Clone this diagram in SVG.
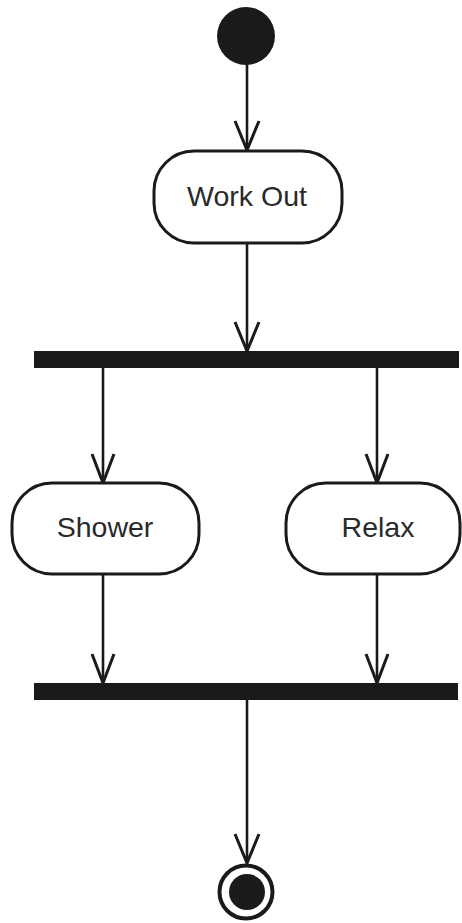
<svg xmlns="http://www.w3.org/2000/svg" width="462" height="923" viewBox="0 0 462 923">
  <style>
    .flow { stroke: #1a1a1a; stroke-width: 2.6; fill: none; }
    .head { stroke: #1a1a1a; stroke-width: 3; fill: none; stroke-linejoin: miter; }
    .action { fill: #ffffff; stroke: #1a1a1a; stroke-width: 3; }
    .bar { fill: #1a1a1a; }
    .label { font-family: "Liberation Sans", Arial, sans-serif; font-size: 28.5px; fill: #2a2a2a; text-anchor: middle; }
  </style>
  <rect width="462" height="923" fill="#ffffff"/>

  <!-- control flows -->
  <g id="connectors">
    <!-- start to Work Out -->
    <line class="flow" x1="247" y1="62" x2="247" y2="150"/>
    <path class="head" d="M235,121 L247,150 L259,121"/>
    <!-- Work Out to fork -->
    <line class="flow" x1="247" y1="243" x2="247" y2="351"/>
    <path class="head" d="M235,322 L247,351 L259,322"/>
    <!-- fork to Shower -->
    <line class="flow" x1="103" y1="368" x2="103" y2="483"/>
    <path class="head" d="M92,454 L103,483 L114,454"/>
    <!-- fork to Relax -->
    <line class="flow" x1="377" y1="368" x2="377" y2="483"/>
    <path class="head" d="M366,454 L377,483 L388,454"/>
    <!-- Shower to join -->
    <line class="flow" x1="103" y1="574" x2="103" y2="683"/>
    <path class="head" d="M92,654 L103,683 L114,654"/>
    <!-- Relax to join -->
    <line class="flow" x1="377" y1="574" x2="377" y2="683"/>
    <path class="head" d="M366,654 L377,683 L388,654"/>
    <!-- join to end -->
    <line class="flow" x1="247" y1="700" x2="247" y2="863"/>
    <path class="head" d="M235,834 L247,863 L259,834"/>
  </g>

  <g id="start">
    <circle cx="246" cy="36" r="29" fill="#1a1a1a"/>
  </g>

  <g id="work-out">
    <rect class="action" x="154" y="151" width="188" height="92" rx="40" ry="40"/>
    <text class="label" x="247" y="206">Work Out</text>
  </g>

  <g id="fork">
    <rect class="bar" x="34" y="351" width="425" height="17"/>
  </g>

  <g id="shower">
    <rect class="action" x="12" y="483" width="187" height="91" rx="40" ry="40"/>
    <text class="label" x="105" y="537">Shower</text>
  </g>

  <g id="relax">
    <rect class="action" x="286" y="483" width="174" height="91" rx="40" ry="40"/>
    <text class="label" x="378" y="537">Relax</text>
  </g>

  <g id="join">
    <rect class="bar" x="34" y="683" width="424" height="17"/>
  </g>

  <g id="end">
    <circle cx="246" cy="892" r="26.5" fill="#ffffff" stroke="#1a1a1a" stroke-width="4"/>
    <circle cx="247" cy="892" r="18" fill="#1a1a1a"/>
  </g>
</svg>
